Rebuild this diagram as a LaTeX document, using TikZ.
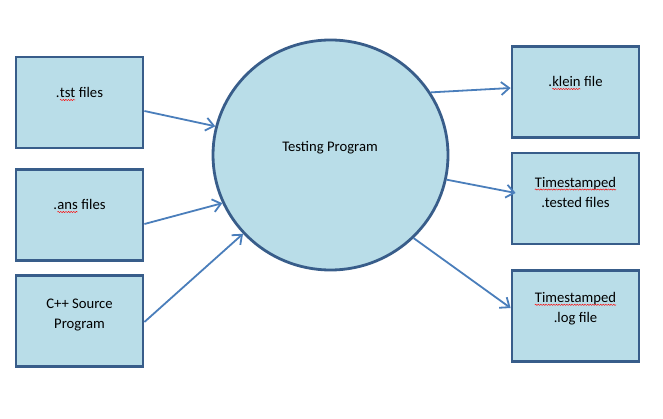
\documentclass[tikz,border=0pt]{standalone}
\usepackage{fontspec}
\setmainfont{Carlito}
\usetikzlibrary{arrows.meta,decorations.pathmorphing,calc,shapes.geometric}
\definecolor{boxfill}{RGB}{185,221,232}
\definecolor{boxline}{RGB}{56,93,138}
\definecolor{arrowc}{RGB}{74,126,187}
\newcommand\sqw[1]{\tikz[baseline=(w.base)]{\node[inner sep=0pt,outer sep=0pt,draw=none,fill=none,minimum width=0pt,minimum height=0pt,shape=rectangle,anchor=center](w){#1};\draw[red,line width=0.45pt,decorate,decoration={snake,amplitude=0.6pt,segment length=2.6pt}]([yshift=-2pt]w.base west)--([yshift=-2pt]w.base east);}}
\tikzset{
  filebox/.style={draw=boxline,fill=boxfill,line width=2.8pt,minimum width=127pt,minimum height=91pt,inner sep=0pt,shape=rectangle},
  prog/.style={draw=boxline,fill=boxfill,line width=2.8pt,ellipse,minimum width=235pt,minimum height=230pt,inner sep=0pt},
  txt/.style={font=\fontsize{14.67}{20}\selectfont,align=center,inner sep=0pt,text=black},
  flow/.style={draw=arrowc,line width=1.8pt,-{Straight Barb[length=8pt,width=13pt,line width=1.8pt]}}
}
\begin{document}
\begin{tikzpicture}[x=1pt,y=-1pt]
\useasboundingbox (0,0) rectangle (663,419);
\node[prog] (P) at (330.5,155) {};
\node[txt,anchor=base] (Pt) at (330,152) {Testing Program};

\node[filebox] (tst) at (79.5,102.5) {};
\node[filebox] (ans) at (79.5,215) {};
\node[filebox] (cpp) at (79.5,321) {};
\node[filebox] (klein) at (575.5,92) {};
\node[filebox] (tested) at (575.5,198.5) {};
\node[filebox] (log) at (575.5,316) {};

\node[txt,anchor=base] (tstt) at (79.5,98) {.\sqw{tst} files};
\node[txt,anchor=base] (anst) at (79.5,210) {.\sqw{ans} files};
\node[txt] (cppt) at (79.5,315) {C++ Source\\Program};
\node[txt,anchor=base] (kleint) at (575.5,87) {.\sqw{klein} file};
\node[txt] (testedt) at (575.5,192.5) {\sqw{Timestamped}\\.tested files};
\node[txt] (logt) at (575.5,309) {\sqw{Timestamped}\\.log file};

\draw[flow] ([yshift=-8.5pt]tst.east) -- (P.166);
\draw[flow] ([yshift=-9pt]ans.east) -- (P.204);
\draw[flow] ([yshift=-1pt]cpp.east) -- (P.222);
\draw[flow] (P.32) -- ([yshift=4pt]klein.west);
\draw[flow] (P.-12) -- ([xshift=5pt,yshift=5.5pt]tested.west);
\draw[flow] (P.-45) -- ([yshift=8pt]log.west);
\end{tikzpicture}
\end{document}
